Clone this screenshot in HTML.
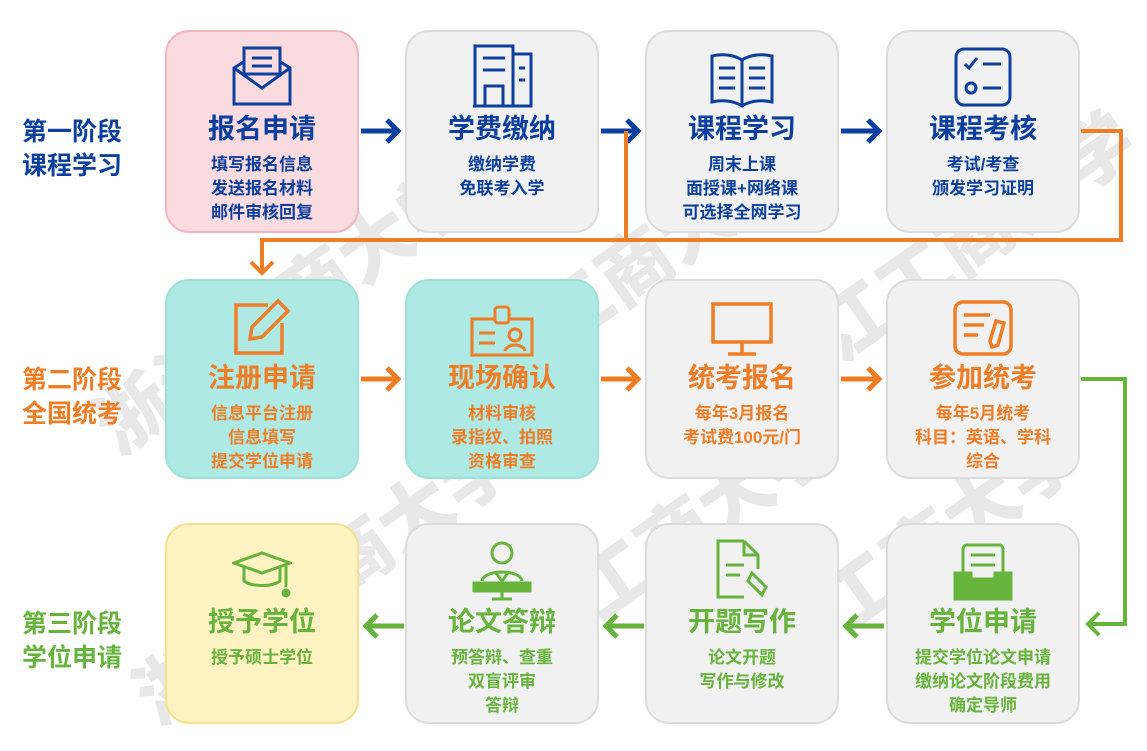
<!DOCTYPE html>
<html><head><meta charset="utf-8"><style>
body{margin:0;width:1147px;height:751px;background:#fff;position:relative;overflow:hidden;font-family:"Liberation Sans","Noto Sans CJK SC",sans-serif;font-weight:bold}
.wm{position:absolute;color:#e8e8e8;font-size:74px;transform:rotate(-35deg);white-space:nowrap;font-family:"Noto Sans CJK SC",sans-serif;font-weight:900}
.c{position:absolute;width:194px;border:2px solid #dcdcdc;background:#f1f1f1;border-radius:24px;text-align:center;box-sizing:border-box}
.c .i{height:76px;display:flex;align-items:flex-end;justify-content:center}
.c .t{font-size:27px;line-height:34px;margin-top:4px}
.c .s{font-size:17px;line-height:24px;margin-top:7px}
.b{color:#0d409e}.o{color:#ef7d26}.g{color:#66b43c}
.st{position:absolute;left:22px;font-size:25px;line-height:34px}
svg.a{position:absolute;left:0;top:0}
</style></head><body>
<div class="wm" style="left:60px;top:250px">浙江工商大学</div>
<div class="wm" style="left:380px;top:230px">浙江工商大学</div>
<div class="wm" style="left:720px;top:200px">浙江工商大学</div>
<div class="wm" style="left:100px;top:520px">浙江工商大学</div>
<div class="wm" style="left:420px;top:500px">浙江工商大学</div>
<div class="wm" style="left:800px;top:470px">工商大学</div>

<div class="st b" style="top:115px">第一阶段<br>课程学习</div>
<div class="st o" style="top:363px">第二阶段<br>全国统考</div>
<div class="st g" style="top:607px">第三阶段<br>学位申请</div>

<svg class="a" width="1147" height="751">
<defs>
<marker id="mb" markerUnits="userSpaceOnUse" markerWidth="18" markerHeight="28" refX="14" refY="14" orient="auto"><path d="M3,3 L14,14 L3,25" fill="none" stroke="#0d409e" stroke-width="5"/></marker>
<marker id="mo" markerUnits="userSpaceOnUse" markerWidth="18" markerHeight="28" refX="14" refY="14" orient="auto"><path d="M3,3 L14,14 L3,25" fill="none" stroke="#ef7d26" stroke-width="5"/></marker>
<marker id="mg" markerUnits="userSpaceOnUse" markerWidth="18" markerHeight="28" refX="14" refY="14" orient="auto"><path d="M3,3 L14,14 L3,25" fill="none" stroke="#66b43c" stroke-width="5"/></marker>
<marker id="mo2" markerUnits="userSpaceOnUse" markerWidth="18" markerHeight="28" refX="14" refY="14" orient="auto"><path d="M3,3 L14,14 L3,25" fill="none" stroke="#ef7d26" stroke-width="4"/></marker>
<marker id="mg2" markerUnits="userSpaceOnUse" markerWidth="18" markerHeight="28" refX="14" refY="14" orient="auto"><path d="M3,3 L14,14 L3,25" fill="none" stroke="#66b43c" stroke-width="4"/></marker>
</defs>
<g stroke-width="5" fill="none">
<line x1="361" y1="131" x2="398" y2="131" stroke="#0d409e" marker-end="url(#mb)"/>
<line x1="601" y1="131" x2="638" y2="131" stroke="#0d409e" marker-end="url(#mb)"/>
<line x1="841" y1="131" x2="879" y2="131" stroke="#0d409e" marker-end="url(#mb)"/>
<path d="M626,131 V240" stroke="#ef7d26" stroke-width="4"/>
<path d="M1081,131 H1121 V240 H262 V273" stroke="#ef7d26" stroke-width="4" marker-end="url(#mo2)"/>
<line x1="361" y1="379" x2="398" y2="379" stroke="#ef7d26" marker-end="url(#mo)"/>
<line x1="601" y1="379" x2="638" y2="379" stroke="#ef7d26" marker-end="url(#mo)"/>
<line x1="841" y1="379" x2="879" y2="379" stroke="#ef7d26" marker-end="url(#mo)"/>
<path d="M1081,379 H1125 V624 H1088" stroke="#66b43c" stroke-width="4" marker-end="url(#mg2)"/>
<line x1="884" y1="626" x2="846" y2="626" stroke="#66b43c" marker-end="url(#mg)"/>
<line x1="644" y1="626" x2="606" y2="626" stroke="#66b43c" marker-end="url(#mg)"/>
<line x1="404" y1="626" x2="366" y2="626" stroke="#66b43c" marker-end="url(#mg)"/>
</g></svg>

<!-- row1 -->
<div class="c b" style="left:165px;top:30px;height:203px;background:#fadbe0;border-color:#f2b6c1">
<div class="i"><svg width="64" height="62" viewBox="0 0 64 62" fill="none" stroke="#0d409e" stroke-width="3"><path d="M4,22 L32,4 L60,22 V58 H4 Z"/><path d="M4,22 L32,42 L60,22"/><rect x="14" y="2" width="36" height="26" fill="#fadbe0"/><path d="M22,12 H42 M22,20 H42"/></svg></div>
<div class="t">报名申请</div><div class="s">填写报名信息<br>发送报名材料<br>邮件审核回复</div></div>
<div class="c b" style="left:405px;top:30px;height:203px">
<div class="i"><svg width="62" height="64" viewBox="0 0 62 64" fill="none" stroke="#0d409e" stroke-width="3"><path d="M2,62 H60"/><rect x="4" y="2" width="38" height="60"/><rect x="42" y="10" width="18" height="52"/><path d="M12,14 H34 M12,26 H34 M48,24 H54 M48,36 H54 M14,62 V42 H32 V62"/></svg></div>
<div class="t">学费缴纳</div><div class="s">缴纳学费<br>免联考入学</div></div>
<div class="c b" style="left:645px;top:30px;height:203px">
<div class="i"><svg width="66" height="56" viewBox="0 0 66 56" fill="none" stroke="#0d409e" stroke-width="3"><path d="M33,8 C24,2 12,2 3,4 V50 C12,48 24,48 33,54 C42,48 54,48 63,50 V4 C54,2 42,2 33,8 Z M33,8 V54"/><path d="M10,16 H26 M10,26 H26 M10,36 H26 M40,16 H56 M40,26 H56 M40,36 H56"/></svg></div>
<div class="t">课程学习</div><div class="s">周末上课<br>面授课+网络课<br>可选择全网学习</div></div>
<div class="c b" style="left:886px;top:30px;height:203px">
<div class="i"><svg width="60" height="62" viewBox="0 0 60 62" fill="none" stroke="#0d409e" stroke-width="3"><rect x="3" y="3" width="54" height="56" rx="8"/><path d="M12,18 L16,22 L24,12 M30,18 H48 M30,42 H48"/><circle cx="18" cy="42" r="5"/></svg></div>
<div class="t">课程考核</div><div class="s">考试/考查<br>颁发学习证明</div></div>

<!-- row2 -->
<div class="c o" style="left:165px;top:279px;height:200px;background:#aeeae3;border-color:#9ee0d8">
<div class="i"><svg width="60" height="60" viewBox="0 0 60 60" fill="none" stroke="#ef7d26" stroke-width="3.5"><path d="M36,8 H4 V56 H50 V26"/><path d="M46,4 L56,14 L30,40 L18,42 L20,30 Z"/></svg></div>
<div class="t">注册申请</div><div class="s">信息平台注册<br>信息填写<br>提交学位申请</div></div>
<div class="c o" style="left:405px;top:279px;height:200px;background:#aeeae3;border-color:#9ee0d8">
<div class="i"><svg width="66" height="52" viewBox="0 0 66 52" fill="none" stroke="#ef7d26" stroke-width="3"><path d="M26,14 H3 V50 H63 V14 H40"/><rect x="26" y="2" width="14" height="16" rx="3"/><path d="M10,28 H26 M10,38 H26"/><circle cx="46" cy="30" r="6"/><path d="M36,46 C38,38 54,38 56,46"/></svg></div>
<div class="t">现场确认</div><div class="s">材料审核<br>录指纹、拍照<br>资格审查</div></div>
<div class="c o" style="left:645px;top:279px;height:200px">
<div class="i"><svg width="64" height="56" viewBox="0 0 64 56" fill="none" stroke="#ef7d26" stroke-width="3.5"><rect x="3" y="3" width="58" height="38"/><path d="M32,41 V52 M18,53 H46"/></svg></div>
<div class="t">统考报名</div><div class="s">每年3月报名<br>考试费100元/门</div></div>
<div class="c o" style="left:886px;top:279px;height:200px">
<div class="i"><svg width="62" height="58" viewBox="0 0 62 58" fill="none" stroke="#ef7d26" stroke-width="3.5"><rect x="3" y="3" width="56" height="52" rx="8"/><path d="M12,16 H38 M12,26 H32 M12,36 H26"/><path d="M44,22 L52,24 L46,46 L40,48 L38,42 Z"/></svg></div>
<div class="t">参加统考</div><div class="s">每年5月统考<br>科目：英语、学科<br>综合</div></div>

<!-- row3 -->
<div class="c g" style="left:165px;top:523px;height:201px;background:#fff3c4;border-color:#f6e08c">
<div class="i"><svg width="60" height="52" viewBox="0 0 60 52" fill="none" stroke="#66b43c" stroke-width="3"><path d="M2,14 L30,4 L58,14 L30,24 Z"/><path d="M12,18 V32 C20,38 40,38 48,32 V18"/><path d="M54,16 V38"/><circle cx="54" cy="44" r="3" fill="#66b43c"/></svg></div>
<div class="t">授予学位</div><div class="s">授予硕士学位</div></div>
<div class="c g" style="left:405px;top:523px;height:201px">
<div class="i"><svg width="60" height="62" viewBox="0 0 60 62" fill="none" stroke="#66b43c" stroke-width="3"><circle cx="30" cy="14" r="10"/><path d="M10,42 C12,30 48,30 50,42"/><path d="M24,34 L30,42 L36,34"/><rect x="2" y="44" width="56" height="8" fill="#66b43c"/><path d="M30,52 V60 M20,60 H40"/></svg></div>
<div class="t">论文答辩</div><div class="s">预答辩、查重<br>双盲评审<br>答辩</div></div>
<div class="c g" style="left:645px;top:523px;height:201px">
<div class="i"><svg width="56" height="62" viewBox="0 0 56 62" fill="none" stroke="#66b43c" stroke-width="3"><path d="M30,2 H4 V58 H30"/><path d="M30,2 L44,16 V30 M30,2 V16 H44"/><path d="M12,26 H30 M12,36 H26"/><path d="M38,34 L52,48 L48,56 L34,42 Z"/></svg></div>
<div class="t">开题写作</div><div class="s">论文开题<br>写作与修改</div></div>
<div class="c g" style="left:886px;top:523px;height:201px">
<div class="i"><svg width="60" height="58" viewBox="0 0 60 58" fill="none" stroke="#66b43c" stroke-width="3"><rect x="10" y="2" width="40" height="34" rx="4"/><path d="M18,12 H42 M18,22 H42"/><path d="M2,30 H18 V38 H42 V30 H58 V56 H2 Z" fill="#66b43c"/></svg></div>
<div class="t">学位申请</div><div class="s">提交学位论文申请<br>缴纳论文阶段费用<br>确定导师</div></div>
</body></html>
